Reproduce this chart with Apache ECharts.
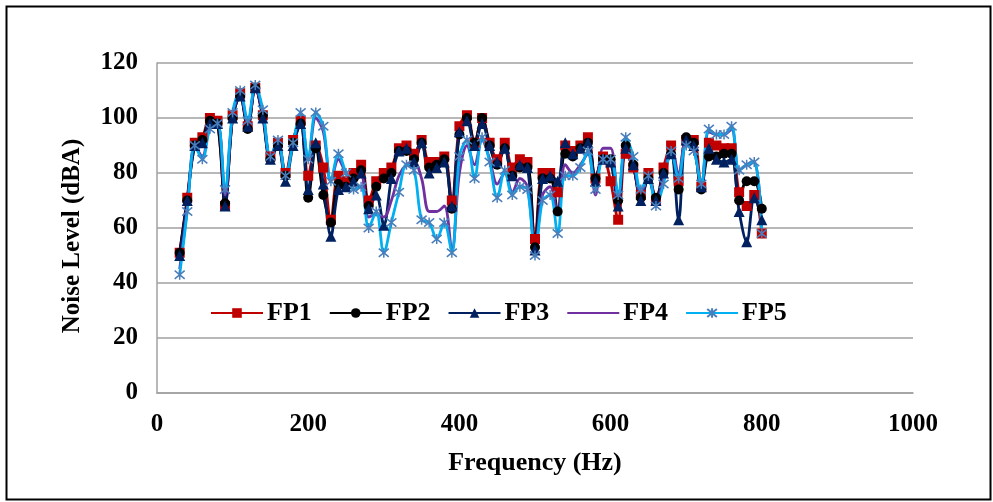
<!DOCTYPE html>
<html>
<head>
<meta charset="utf-8">
<script src="https://cdn.jsdelivr.net/npm/echarts@6/dist/echarts.min.js"></script>
<style>
html,body{margin:0;padding:0;background:#fff;}
#c{width:993px;height:502px;}
</style>
</head>
<body>
<div id="c"></div>
<script>
var freqs = [30,40,50,60,70,80,90,100,110,120,130,140,150,160,170,180,190,200,210,220,230,240,250,260,270,280,290,300,310,320,330,340,350,360,370,380,390,400,410,420,430,440,450,460,470,480,490,500,510,520,530,540,550,560,570,580,590,600,610,620,630,640,650,660,670,680,690,700,710,720,730,740,750,760,770,780,790,800];

var fp1 = [51,71,91,93,100,99,68,101,109,97,111,
  101,86,91,80,92,99,79,90,82,63,79,77,80,83,70,77,80,
  82,89,90,87,92,84,84,86,70,97,
  101,91,100,91,85,91,82,85,84,56,
  80,80,73,90,88,90,93,78,86,77,
  63,87,82,72,80,70,82,90,77,92,
  92,75,91,90,89,89,73,68,72,58];

var fp2 = [51,70,90,92,99,98,69,100,108,96,111,
  101,85,90,79,91,98,71,89,72,62,76,75,78,81,68,75,78,
  80,88,88,85,91,82,83,85,67,94,
  100,91,100,90,83,89,79,82,82,53,
  78,78,66,87,86,89,91,78,85,85,
  70,90,83,71,78,71,80,87,74,93,
  91,74,86,86,87,87,70,77,77,67];

var fp3 = [50,70,90,91,98,98,68,100,108,97,111,
  100,85,90,77,90,98,74,91,76,57,74,75,77,80,67,72,61,
  78,88,89,84,91,80,82,84,68,95,
  99,90,98,90,84,89,79,83,82,52,
  78,79,77,91,87,89,91,77,85,84,
  68,89,83,70,78,70,80,87,63,92,
  90,75,89,85,84,85,66,55,71,63];

var fp4 = [45,67,90,86,97,98,72,101,109,98,111,
  102,86,91,79,91,101,85,100,95,77,85,80,77,79,64,65,64,
  70,79,83,84,78,66,66,68,52,80,
  90,83,92,85,76,80,73,78,75,52,
  72,75,65,83,80,83,87,72,89,89,
  70,89,84,72,80,69,78,91,80,92,
  89,75,95,94,94,96,81,83,84,58];

var fp5 = [43,66,90,85,96,98,74,102,110,99,112,
  103,86,92,79,91,102,85,102,97,77,87,80,74,75,60,66,51,
  62,73,83,81,63,62,56,62,51,86,
  92,78,93,84,71,81,72,75,74,50,
  70,72,58,79,79,82,88,74,85,85,
  72,93,86,74,79,68,76,88,78,90,
  88,76,96,94,94,97,81,83,84,58];

var seriesNames = ['FP1','FP2','FP3','FP4','FP5'];
var xTicks = [0,200,400,600,800,1000];
var yTicks = [0,20,40,60,80,100,120];

function pairs(arr){ return freqs.map(function(f,i){ return [f, arr[i]]; }); }

var FONT = 'Liberation Serif';
var chart = echarts.init(document.getElementById('c'), null, {renderer:'canvas'});

var asterisk = 'path://M0,0L10,10M10,0L0,10M5,-1L5,11';

function mk(name, data, lineColor, symbol, size, markColor, showSym){
  return {
    name: name, type: 'line', data: pairs(data), smooth: 0.35,
    symbol: showSym ? symbol : 'none', symbolSize: size,
    showSymbol: showSym,
    lineStyle: {color: lineColor, width: 2.8},
    itemStyle: {color: markColor, borderColor: markColor, borderWidth: symbol===asterisk?1.5:0},
    emphasis: {disabled: true},
    animation: false
  };
}

chart.setOption({
  animation: false,
  backgroundColor: '#ffffff',
  graphic: [{
    type: 'rect', left: 4, top: 4,
    shape: {width: 984, height: 493},
    style: {fill: 'none', stroke: '#000', lineWidth: 2},
    silent: true
  }],
  grid: {left: 157, right: 80, top: 63, bottom: 109, containLabel: false},
  legend: {
    left: 205, top: 295,
    itemWidth: 52, itemHeight: 12, itemGap: 17,
    data: [
      {name: 'FP1'}, {name: 'FP2'}, {name: 'FP3'},
      {name: 'FP4', itemStyle: {opacity: 0}},
      {name: 'FP5'}
    ],
    textStyle: {fontFamily: FONT, fontWeight: 'bold', fontSize: 26, color: '#000', padding: [0,0,0,-1]}
  },
  xAxis: {
    type: 'value', min: 0, max: 1000, interval: 200,
    name: 'Frequency (Hz)', nameLocation: 'middle', nameGap: 57,
    nameTextStyle: {fontFamily: FONT, fontWeight: 'bold', fontSize: 26, color: '#000'},
    axisLine: {show: true, lineStyle: {color: '#A0A0A0', width: 1.5}},
    axisTick: {show: false},
    splitLine: {show: false},
    axisLabel: {fontFamily: FONT, fontWeight: 'bold', fontSize: 25, color: '#000', margin: 19,
      formatter: function(v){ return xTicks.indexOf(v) >= 0 ? String(v) : ''; }}
  },
  yAxis: {
    type: 'value', min: 0, max: 120, interval: 20,
    name: 'Noise Level (dBA)', nameLocation: 'middle', nameGap: 72, nameRotate: 90,
    nameTextStyle: {fontFamily: FONT, fontWeight: 'bold', fontSize: 25, color: '#000', padding: [0,16,0,0]},
    axisLine: {show: true, lineStyle: {color: '#A0A0A0', width: 1.5}},
    axisTick: {show: false},
    splitLine: {show: true, lineStyle: {color: '#A0A0A0', width: 1.5}},
    axisLabel: {fontFamily: FONT, fontWeight: 'bold', fontSize: 25, color: '#000', margin: 19,
      formatter: function(v){ return yTicks.indexOf(v) >= 0 ? String(v) : ''; }}
  },
  series: [
    mk('FP1', fp1, '#C00000', 'rect', 10, '#C00000', true),
    mk('FP2', fp2, '#000000', 'circle', 10, '#000000', true),
    mk('FP3', fp3, '#002060', 'triangle', 11, '#002060', true),
    mk('FP4', fp4, '#7030A0', 'none', 0, '#7030A0', false),
    mk('FP5', fp5, '#00B0F0', asterisk, 10, '#4A7EBB', true)
  ]
});
</script>
</body>
</html>
